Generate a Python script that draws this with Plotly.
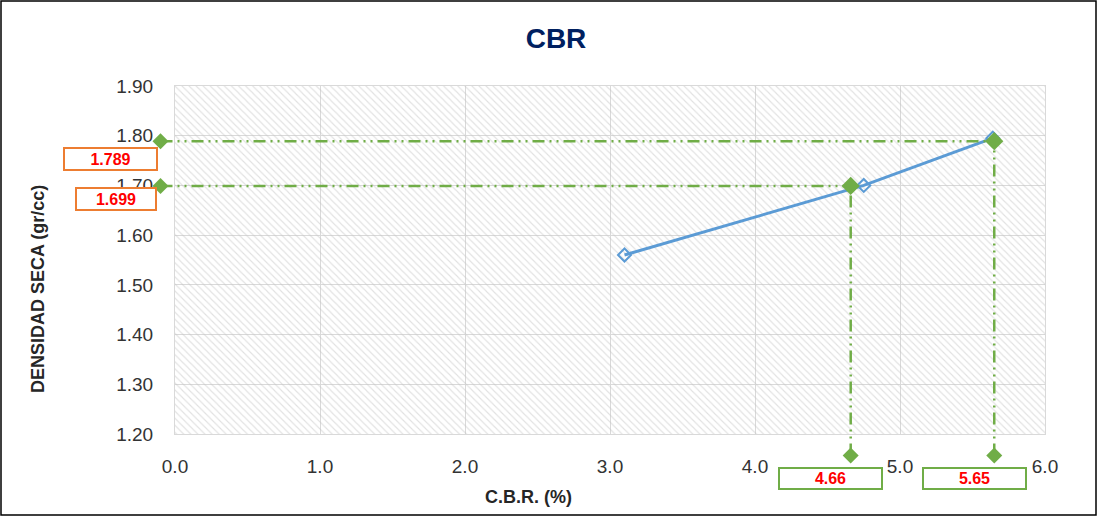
import plotly.graph_objects as go

# data
cbr = [3.1, 4.75, 5.64]
densidad = [1.56, 1.70, 1.795]

cbr_reads = [4.66, 5.65]
dens_reads = [1.699, 1.789]
read_labels_x = ["4.66", "5.65"]
read_labels_y = ["1.699", "1.789"]

X_RANGE = [0.0, 6.0]
Y_RANGE = [1.2, 1.9]
X_LEFT_END = -0.1      # where the horizontal guides start
Y_BOTTOM_END = 1.157   # where the vertical guides end

BLUE = "#5B9BD5"
GREEN = "#70AD47"
ORANGE = "#ED7D31"
GRID = "#d9d9d9"
FONT = "Liberation Sans"
DASH = "12px,5px,2px,5px,2px,5px"

L, R, T, B = 175, 55, 86, 84
W, H = 1100, 518
pw, ph = W - L - R, H - T - B


def _xd(v):
    return (v - X_RANGE[0]) / (X_RANGE[1] - X_RANGE[0])


def _yd(v):
    return (v - Y_RANGE[0]) / (Y_RANGE[1] - Y_RANGE[0])


def _px_x(px):
    return (px - L) / pw


def _px_y(py):
    return (H - B - py) / ph


def _diamond(xv, yv, half=8):
    return dict(type="path", xref="x domain", yref="y domain",
                xsizemode="pixel", ysizemode="pixel",
                xanchor=_xd(xv), yanchor=_yd(yv),
                path="M0,%d L%d,0 L0,%d L%d,0 Z" % (half, half, -half, -half),
                fillcolor=GREEN, line=dict(width=0), layer="above")


fig = go.Figure()

# hatched plot background
fig.add_trace(go.Scatter(
    x=[X_RANGE[0], X_RANGE[1], X_RANGE[1], X_RANGE[0], X_RANGE[0]],
    y=[Y_RANGE[0], Y_RANGE[0], Y_RANGE[1], Y_RANGE[1], Y_RANGE[0]],
    mode="lines", fill="toself", line=dict(width=0),
    fillcolor="rgba(255,255,255,0)",
    fillpattern=dict(shape="\\", fgcolor="#c4c4c4", bgcolor="rgba(255,255,255,0)",
                     size=5, solidity=0.22),
    hoverinfo="skip", showlegend=False,
))

shapes = []
for xv, yv in zip(cbr_reads, dens_reads):
    # horizontal guide
    shapes.append(dict(type="line", xref="x domain", yref="y domain",
                       x0=_xd(X_LEFT_END), x1=_xd(xv), y0=_yd(yv), y1=_yd(yv),
                       line=dict(color=GREEN, width=2.5, dash=DASH), layer="above"))
    # vertical guide
    shapes.append(dict(type="line", xref="x domain", yref="y domain",
                       x0=_xd(xv), x1=_xd(xv), y0=_yd(Y_BOTTOM_END), y1=_yd(yv),
                       line=dict(color=GREEN, width=2.5, dash=DASH), layer="above"))
    shapes.append(_diamond(X_LEFT_END, yv))
    shapes.append(_diamond(xv, Y_BOTTOM_END))

# outer frame
shapes.append(dict(type="rect", xref="paper", yref="paper",
                   x0=_px_x(1), x1=_px_x(1096), y0=_px_y(515), y1=_px_y(1),
                   line=dict(color="black", width=1.5), fillcolor="rgba(0,0,0,0)"))

fig.add_trace(go.Scatter(
    x=cbr, y=densidad, mode="lines+markers",
    line=dict(color=BLUE, width=3),
    marker=dict(symbol="diamond-open", size=10, color=BLUE, line=dict(width=2)),
    showlegend=False,
))

# green reading markers on the curve
fig.add_trace(go.Scatter(
    x=cbr_reads, y=dens_reads, mode="markers", cliponaxis=False,
    marker=dict(symbol="diamond", size=14, color=GREEN),
    showlegend=False,
))

annotations = []
# y readings (orange boxes)
for yv, txt, px, ys, w in zip(dens_reads[::-1], read_labels_y[::-1], [110, 116], [-18, -13], [89, 76]):
    annotations.append(dict(
        x=_px_x(px), xref="paper", y=yv, yref="y", yshift=ys,
        xanchor="center", yanchor="middle",
        text="<b>%s</b>" % txt, showarrow=False, width=w, height=18,
        font=dict(color="#FF0000", size=16, family=FONT),
        bordercolor=ORANGE, borderwidth=2, borderpad=1, bgcolor="white",
    ))
# x readings (green boxes)
for xv, txt in zip(cbr_reads, read_labels_x):
    annotations.append(dict(
        x=xv, xref="x", xshift=-20, y=_px_y(478), yref="paper",
        xanchor="center", yanchor="middle",
        text="<b>%s</b>" % txt, showarrow=False, width=99, height=17,
        font=dict(color="#FF0000", size=16, family=FONT),
        bordercolor=GREEN, borderwidth=2, borderpad=1, bgcolor="white",
    ))
# axis titles
annotations.append(dict(
    x=_px_x(528), xref="paper", y=_px_y(497), yref="paper",
    xanchor="center", yanchor="middle",
    text="<b>C.B.R. (%)</b>", showarrow=False,
    font=dict(color="#262626", size=18, family=FONT),
))
annotations.append(dict(
    x=_px_x(38), xref="paper", y=_px_y(289), yref="paper",
    xanchor="center", yanchor="middle",
    text="<b>DENSIDAD SECA (gr/cc)</b>", showarrow=False, textangle=-90,
    font=dict(color="#262626", size=18, family=FONT),
))

fig.update_layout(
    width=W, height=H,
    margin=dict(l=L, r=R, t=T, b=B),
    paper_bgcolor="white", plot_bgcolor="white",
    font=dict(family=FONT, size=19, color="#333333"),
    title=dict(text="<b>CBR</b>", x=556 / W, xref="container", y=1 - 38 / H,
               yanchor="middle", xanchor="center",
               font=dict(size=28, color="#002060", family=FONT)),
    xaxis=dict(range=X_RANGE, dtick=1.0, tickformat=".1f", showgrid=True,
               gridcolor=GRID, gridwidth=1, zeroline=False, showline=True,
               linecolor=GRID, mirror=True, ticks="", ticklabelstandoff=15,
               tickfont=dict(size=19, color="#333333")),
    yaxis=dict(range=Y_RANGE, dtick=0.1, tickformat=".2f", showgrid=True,
               gridcolor=GRID, gridwidth=1, zeroline=False, showline=True,
               linecolor=GRID, mirror=True, ticks="", ticklabelstandoff=17,
               tickfont=dict(size=19, color="#333333")),
    shapes=shapes,
    annotations=annotations,
    showlegend=False,
)

# the page's default body margin would shift the chart by 8px
fig.write_html("out.html", config={"displayModeBar": False},
               post_script="document.body.style.margin='0';")
